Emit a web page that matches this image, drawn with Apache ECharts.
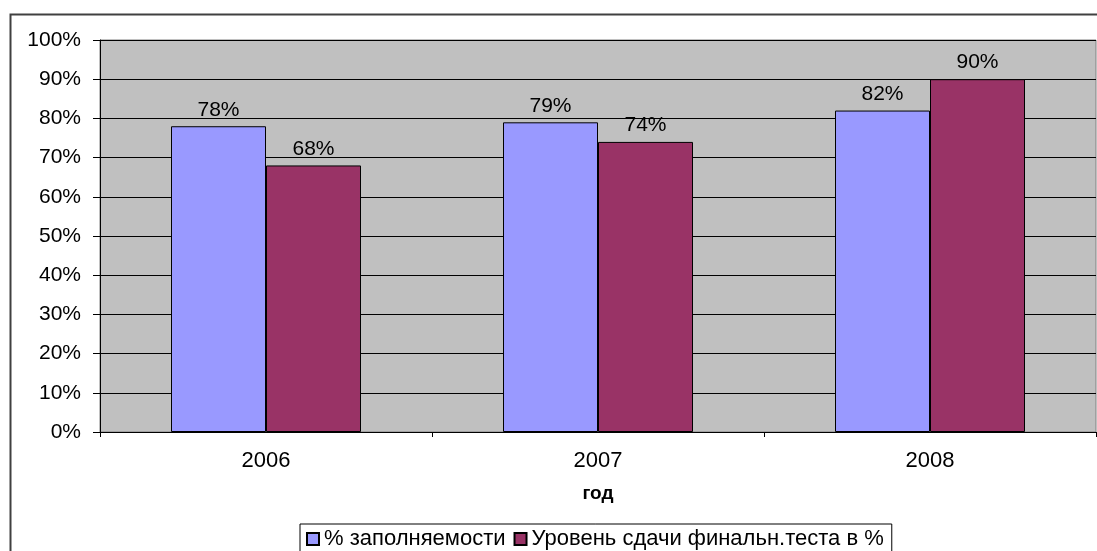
<!DOCTYPE html>
<html>
<head>
<meta charset="utf-8">
<script src="https://cdn.jsdelivr.net/npm/echarts@6/dist/echarts.min.js"></script>
<style>
  html, body { margin: 0; padding: 0; background: #fff; }
  #chart { width: 1097px; height: 551px; }
</style>
</head>
<body>
<div id="chart"></div>
<script>
var years = ['2006', '2007', '2008'];
var fillRate = [78, 79, 82];
var testRate = [68, 74, 90];
var seriesNames = ['% заполняемости', 'Уровень сдачи финальн.теста в %'];

var chart = echarts.init(document.getElementById('chart'));

var option = {
  animation: false,
  textStyle: { fontFamily: 'Liberation Sans, Arial, sans-serif', color: '#000' },
  graphic: [{
    type: 'rect',
    left: 8, top: 12,
    shape: { width: 1100, height: 560 },
    style: { fill: 'none', stroke: '#404040', lineWidth: 2 },
    silent: true
  }],
  grid: {
    left: 100, right: 1, top: 40, bottom: 119,
    show: true, backgroundColor: '#c0c0c0', borderColor: '#808080', borderWidth: 1
  },
  legend: {
    data: seriesNames,
    left: 300, top: 524,
    itemWidth: 12, itemHeight: 12, itemGap: 8,
    padding: [4, 8, 8, 6],
    borderColor: '#000', borderWidth: 1,
    textStyle: { fontSize: 22, color: '#000', fontFamily: 'Liberation Sans, Arial, sans-serif' },
    icon: 'rect'
  },
  xAxis: {
    type: 'category',
    data: years,
    name: 'год',
    nameLocation: 'middle',
    nameGap: 52,
    nameTextStyle: { fontSize: 19, fontWeight: 'bold', color: '#000' },
    axisLine: { lineStyle: { color: '#000', width: 1 } },
    axisTick: { show: true, length: 5, lineStyle: { color: '#000' } },
    axisLabel: { fontSize: 22, color: '#000', margin: 18 }
  },
  yAxis: {
    type: 'value',
    min: 0, max: 100, interval: 10,
    axisLine: { show: true, lineStyle: { color: '#000' } },
    axisTick: { show: true, length: 7, lineStyle: { color: '#000' } },
    axisLabel: { fontSize: 21, color: '#000', margin: 19, formatter: '{value}%' },
    splitLine: { show: true, lineStyle: { color: '#000', width: 1 } }
  },
  series: [
    {
      name: seriesNames[0],
      type: 'bar',
      data: fillRate,
      barWidth: 95,
      barGap: '0%',
      itemStyle: { color: '#9999ff', borderColor: '#000', borderWidth: 1 },
      label: { show: true, position: 'top', distance: 6, formatter: '{c}%', fontSize: 21, color: '#000' }
    },
    {
      name: seriesNames[1],
      type: 'bar',
      data: testRate,
      barWidth: 95,
      barGap: '0%',
      itemStyle: { color: '#993366', borderColor: '#000', borderWidth: 1 },
      label: { show: true, position: 'top', distance: 6, formatter: '{c}%', fontSize: 21, color: '#000' }
    }
  ]
};

chart.setOption(option);
</script>
</body>
</html>
